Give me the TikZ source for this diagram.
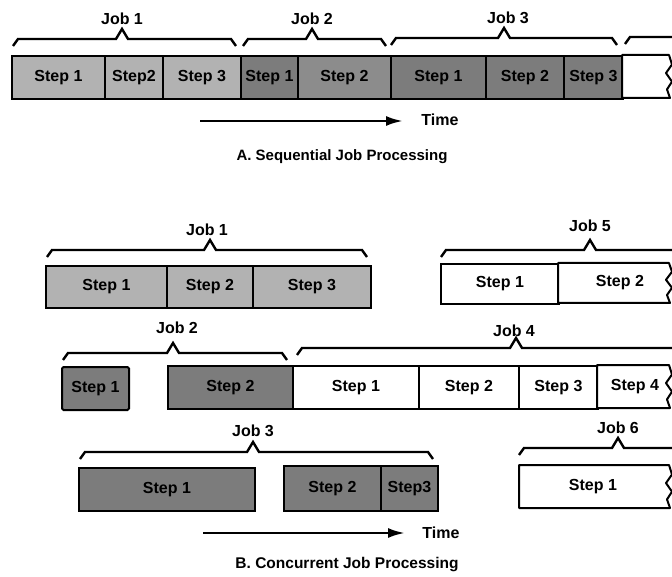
\documentclass[tikz,border=0pt]{standalone}
\usepackage{fontspec}
\setmainfont{Liberation Sans}
\usetikzlibrary{arrows.meta}
\definecolor{lightg}{HTML}{B2B2B2}
\definecolor{midg}{HTML}{8C8C8C}
\definecolor{darkg}{HTML}{7C7C7C}
\newcommand\lab{\fontsize{16}{19}\selectfont\bfseries}
\newcommand\jbrace[4]{%
  \draw[bracestyle] (#1,#4+7) -- (#1+5,#4) -- (#3-6,#4) -- (#3,#4-10) -- (#3+6,#4) -- (#2-5,#4) -- (#2,#4+7);}
\newcommand\jbraceopen[3]{%
  \draw[bracestyle] (#1,#3+7) -- (#1+5,#3) -- (#2-6,#3) -- (#2,#3-10) -- (#2+6,#3) -- (675,#3);}
\newcommand\wavybox[4]{% x1, top, bottom, fill
  \filldraw[fill=#4, line width=2pt, line join=round]
   (#1,#2) -- (669,#2) -- (672,#2+0.22*#3-0.22*#2) -- (666,#2+0.42*#3-0.42*#2)
   -- (672,#2+0.62*#3-0.62*#2) -- (667,#2+0.8*#3-0.8*#2) -- (670,#3) -- (#1,#3) -- cycle;}
\tikzset{
  sbox/.style={draw, line width=2pt, inner sep=0pt, anchor=north west, font=\lab, text=black},
  bracestyle/.style={line width=2.4pt, line join=miter},
  lab/.style={font=\lab, inner sep=0pt},
  timearrow/.style={line width=2.6pt, -{Latex[length=17pt,width=10pt]}},
}
\begin{document}
\begin{tikzpicture}[x=1pt, y=-1pt]
\useasboundingbox (0,0) rectangle (672,577);
% ---------- A ----------
\node[sbox, fill=lightg, minimum width=93pt, minimum height=43pt] (a11) at (11,55) {Step 1};
\node[sbox, fill=lightg, minimum width=58pt, minimum height=43pt] (a12) at (104,55) {Step2};
\node[sbox, fill=lightg, minimum width=78pt, minimum height=43pt] (a13) at (162,55) {Step 3};
\node[sbox, fill=darkg, minimum width=57pt, minimum height=43pt] (a21) at (240,55) {Step 1};
\node[sbox, fill=midg, minimum width=93pt, minimum height=43pt] (a22) at (297,55) {Step 2};
\node[sbox, fill=darkg, minimum width=95pt, minimum height=43pt] (a31) at (390,55) {Step 1};
\node[sbox, fill=darkg, minimum width=78pt, minimum height=43pt] (a32) at (485,55) {Step 2};
\node[sbox, fill=darkg, minimum width=59pt, minimum height=43pt] (a33) at (563,55) {Step 3};
\wavybox{622}{55}{98}{white}
\jbrace{13}{236}{122}{39}
\jbrace{243}{386}{312}{39}
\jbrace{391}{617}{504}{38}
\jbraceopen{625}{720}{37}
\node[lab] (aj1) at (122,19) {Job 1};
\node[lab] (aj2) at (312,19) {Job 2};
\node[lab] (aj3) at (508,18) {Job 3};
\coordinate (ta1) at (200,121);
\coordinate (ta2) at (403,121);
\draw[timearrow] (ta1) -- (ta2);
\node[lab] (timeA) at (440,120) {Time};
\node[lab, font=\fontsize{15}{18}\selectfont\bfseries] (titleA) at (342,157) {A. Sequential Job Processing};
% ---------- B ----------
% row 1
\node[sbox, fill=lightg, minimum width=121pt, minimum height=42pt] (b11) at (45,265) {Step 1};
\node[sbox, fill=lightg, minimum width=86pt, minimum height=42pt] (b12) at (166,265) {Step 2};
\node[sbox, fill=lightg, minimum width=118pt, minimum height=42pt] (b13) at (252,265) {Step 3};
\node[sbox, fill=white, minimum width=118pt, minimum height=40pt] (b51) at (440,263) {Step 1};
\wavybox{558}{263}{303}{white}
\node[lab] (b52) at (620,283) {Step 2};
\jbrace{47}{367}{210}{250}
\jbraceopen{441}{590}{250}
\node[lab] (bj1) at (207,230) {Job 1};
\node[lab] (bj5) at (590,226) {Job 5};
% row 2
\node[sbox, fill=darkg, minimum width=67pt, minimum height=43pt, rounded corners=1.5pt] (b21) at (61,366) {Step 1};
\node[sbox, fill=darkg, minimum width=125pt, minimum height=43pt] (b22) at (167,365) {Step 2};
\node[sbox, fill=white, minimum width=126pt, minimum height=43pt] (b41) at (292,365) {Step 1};
\node[sbox, fill=white, minimum width=100pt, minimum height=43pt] (b42) at (418,365) {Step 2};
\node[sbox, fill=white, minimum width=79pt, minimum height=43pt] (b43) at (518,365) {Step 3};
\wavybox{597}{365}{408}{white}
\node[lab] (b44) at (635,387) {Step 4};
\jbrace{63}{287}{173}{353}
\jbraceopen{297}{516}{348}
\node[lab] (bj2) at (177,328) {Job 2};
\node[lab] (bj4) at (514,331) {Job 4};
% row 3
\node[sbox, fill=darkg, minimum width=176pt, minimum height=43pt] (b31) at (78,467) {Step 1};
\node[sbox, fill=darkg, minimum width=97pt, minimum height=45pt] (b32) at (283,465) {Step 2};
\node[sbox, fill=darkg, minimum width=57pt, minimum height=45pt] (b33) at (380,465) {Step3};
\wavybox{519}{465}{508}{white}
\node[lab] (b61) at (593,487) {Step 1};
\jbrace{80}{433}{253}{452}
\jbraceopen{519}{618}{448}
\node[lab] (bj3) at (253,431) {Job 3};
\node[lab] (bj6) at (618,428) {Job 6};
\coordinate (tb1) at (203,533);
\coordinate (tb2) at (405,533);
\draw[timearrow] (tb1) -- (tb2);
\node[lab] (timeB) at (441,533) {Time};
\node[lab, font=\fontsize{15.5}{18}\selectfont\bfseries] (titleB) at (347,565) {B. Concurrent Job Processing};
\end{tikzpicture}
\end{document}
